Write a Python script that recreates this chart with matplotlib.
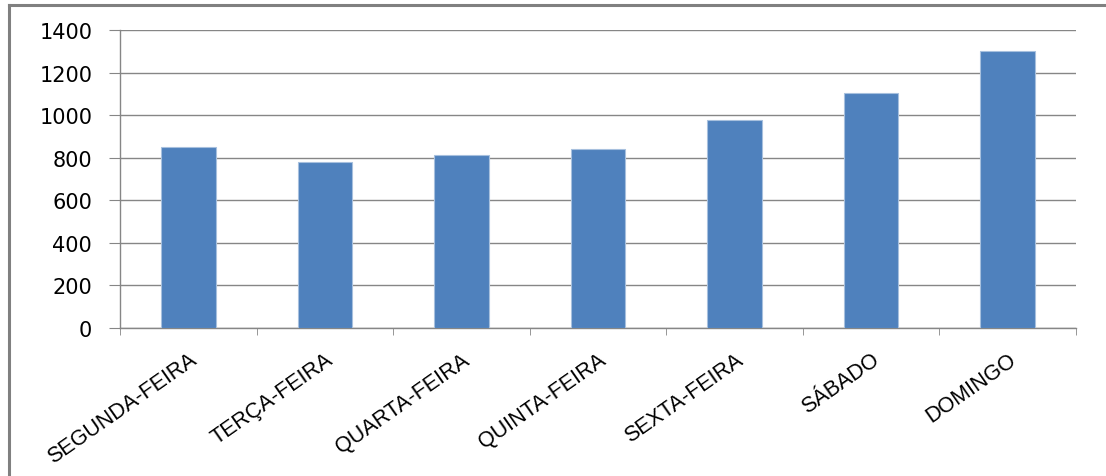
import matplotlib.pyplot as plt
from matplotlib.lines import Line2D
import numpy as np

# dados do grafico
dias = ['SEGUNDA-FEIRA', 'TERÇA-FEIRA', 'QUARTA-FEIRA', 'QUINTA-FEIRA',
        'SEXTA-FEIRA', 'SÁBADO', 'DOMINGO']
valores = [848, 778, 812, 843, 975, 1104, 1300]
y_ticks = [0, 200, 400, 600, 800, 1000, 1200, 1400]

cor_barra = '#4F81BD'
cor_eixo = '#868686'

fig = plt.figure(figsize=(11.06, 4.77), dpi=100)
ax = fig.add_axes([120 / 1106, 1 - 329 / 477, (1076 - 120) / 1106, (329 - 31) / 477])

x = np.arange(len(dias))
ax.bar(x, valores, width=0.4, color=cor_barra, edgecolor='#A7C0DE', linewidth=0.8, zorder=3)

ax.set_xlim(-0.5, len(dias) - 0.5)
ax.set_ylim(0, 1400)
ax.set_yticks(y_ticks)
ax.set_yticklabels([str(v) for v in y_ticks], fontsize=15, family='DejaVu Sans')
ax.yaxis.grid(True, color=cor_eixo, linewidth=1.0, zorder=0)
ax.tick_params(axis='y', length=8, color=cor_eixo, pad=12)

ax.set_xticks(x)
ax.set_xticklabels(dias, rotation=35, ha='right', rotation_mode='anchor',
                   fontsize=15.5, family='Liberation Sans')
ax.set_xticks(np.arange(-0.5, len(dias)), minor=True)
ax.tick_params(axis='x', which='major', length=0, pad=15)
ax.tick_params(axis='x', which='minor', length=5, color=cor_eixo)

for lado in ['top', 'right']:
    ax.spines[lado].set_visible(False)
for lado in ['left', 'bottom']:
    ax.spines[lado].set_color(cor_eixo)
    ax.spines[lado].set_linewidth(1.0)

# moldura do grafico (cortada na imagem)
fig.add_artist(Line2D([9 / 1106, 9 / 1106], [0, 1 - 6 / 477], transform=fig.transFigure,
                      color='#808080', linewidth=2.2))
fig.add_artist(Line2D([9 / 1106, 1], [1 - 6 / 477, 1 - 6 / 477], transform=fig.transFigure,
                      color='#808080', linewidth=2.2))

fig.savefig('out.png', dpi=100)
